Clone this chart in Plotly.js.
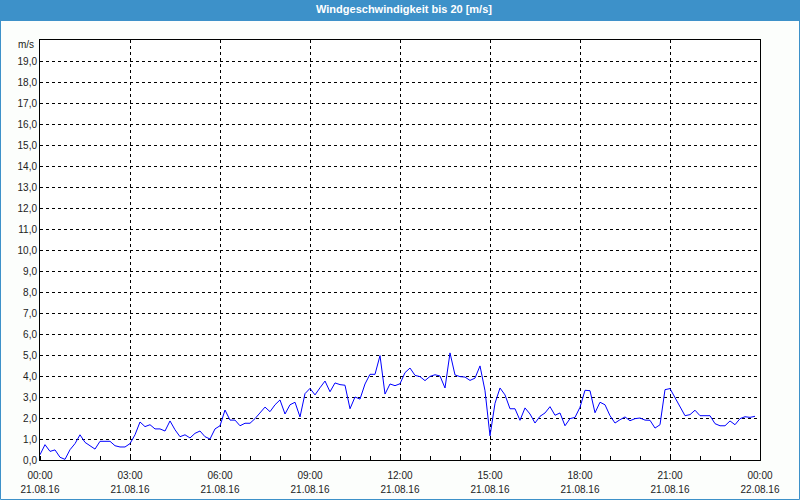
<!DOCTYPE html>
<html>
<head>
<meta charset="utf-8">
<script src="https://cdn.plot.ly/plotly-3.0.1.min.js"></script>
<style>
html,body{margin:0;padding:0;background:#fcfefc;}
#chart{width:800px;height:500px;}
</style>
</head>
<body>
<div id="chart"></div>
<script>
// Wind speed (m/s), 10-minute samples from 21.08.16 00:00 to 23:50
const startTime = "2016-08-21T00:00:00";
const windSpeed = [
  0.25,0.73,0.41,0.48,0.13,0.03,0.49,0.78,1.2,0.84,0.68,0.52,0.89,0.9,0.89,0.68,0.62,0.62,
  0.78,1.2,1.81,1.59,1.68,1.48,1.48,1.38,1.86,1.44,1.11,1.2,1.05,1.27,1.38,1.11,1.0,1.48,
  1.63,2.38,1.9,1.9,1.63,1.75,1.75,1.97,2.24,2.52,2.3,2.63,2.86,2.19,2.63,2.75,2.05,3.16,
  3.41,3.1,3.44,3.76,3.25,3.67,3.59,3.56,2.44,3.0,2.9,3.62,4.08,4.08,4.97,3.14,3.62,3.54,
  3.63,4.16,4.38,4.03,3.97,3.78,3.98,4.06,4.0,3.43,5.1,4.05,3.97,3.95,3.79,3.9,4.48,3.3,
  1.15,2.7,3.43,3.1,2.44,2.44,1.89,2.48,2.19,1.76,2.08,2.24,2.54,2.13,2.24,1.63,1.97,2.03,
  2.51,3.32,3.3,2.25,2.75,2.63,2.11,1.76,1.92,2.05,1.87,1.97,2.0,1.9,1.89,1.52,1.68,3.35,
  3.4,2.98,2.56,2.11,2.16,2.37,2.11,2.11,2.11,1.73,1.63,1.63,1.86,1.68,1.97,2.06,2.03,2.08
];
const xTickVals = ["2016-08-21 00:00","2016-08-21 03:00","2016-08-21 06:00","2016-08-21 09:00",
  "2016-08-21 12:00","2016-08-21 15:00","2016-08-21 18:00","2016-08-21 21:00","2016-08-22 00:00"];
const xTimeLabels = ["00:00","03:00","06:00","09:00","12:00","15:00","18:00","21:00","00:00"];
const xDateLabels = ["21.08.16","21.08.16","21.08.16","21.08.16","21.08.16","21.08.16","21.08.16","21.08.16","22.08.16"];
const yTickVals = [0,1,2,3,4,5,6,7,8,9,10,11,12,13,14,15,16,17,18,19];
const titleText = "Windgeschwindigkeit bis 20 [m/s]";
const unitLabel = "m/s";

// sample timestamps (10-minute spacing)
const t0 = new Date(startTime + "Z").getTime();
const times = windSpeed.map((_, i) => {
  const d = new Date(t0 + i * 600000);
  return d.toISOString().slice(0,19).replace("T"," ");
});

const FONT = "Liberation Sans, Arial, sans-serif";
const W = 800, H = 500, ML = 40, MR = 40, MT = 40, MB = 40;
const PW = W - ML - MR, PH = H - MT - MB;

const trace = {
  x: times, y: windSpeed, type: "scatter", mode: "lines",
  line: {color: "#0000ff", width: 1}, hoverinfo: "skip", xaxis: "x", yaxis: "y"
};
const dateTrace = {
  x: [times[0]], y: [null], type: "scatter", mode: "lines",
  xaxis: "x2", yaxis: "y", hoverinfo: "skip", showlegend: false
};

const xRange = ["2016-08-21 00:00", "2016-08-22 00:00"];

const layout = {
  width: W, height: H,
  margin: {l: ML, r: MR, t: MT, b: MB, pad: 0},
  paper_bgcolor: "#fcfefc",
  plot_bgcolor: "#ffffff",
  showlegend: false,
  separators: ",.",
  font: {family: FONT, size: 10, color: "#222222"},
  title: {
    text: "<b>" + titleText + "</b>",
    font: {family: FONT, size: 11, color: "#ffffff"},
    x: 0.505, xanchor: "center", xref: "container",
    y: 1 - 9.5 / H, yanchor: "middle", yref: "container"
  },
  xaxis: {
    type: "date", range: xRange, fixedrange: true,
    tickmode: "array", tickvals: xTickVals, ticktext: xTimeLabels,
    showgrid: true, gridcolor: "#000000", gridwidth: 1, griddash: "3px,3px",
    showline: true, linecolor: "#000000", linewidth: 1, mirror: true,
    ticks: "", ticklabelstandoff: 6,
    tickfont: {family: FONT, size: 10, color: "#222222"},
    zeroline: false,
    minor: {dtick: 3600000, tick0: "2016-08-21 00:00", ticks: "inside", ticklen: 4,
            tickcolor: "#000000", tickwidth: 1, showgrid: false}
  },
  xaxis2: {
    type: "date", range: xRange, overlaying: "x", side: "bottom", anchor: "y",
    tickmode: "array", tickvals: xTickVals, ticktext: xDateLabels,
    showgrid: false, showline: false, zeroline: false, ticks: "",
    ticklabelstandoff: 22, fixedrange: true,
    tickfont: {family: FONT, size: 10, color: "#222222"}
  },
  yaxis: {
    range: [0, 20], fixedrange: true,
    tickmode: "array", tickvals: yTickVals, tickformat: ".1f",
    showgrid: true, gridcolor: "#000000", gridwidth: 1, griddash: "3px,3px",
    showline: true, linecolor: "#000000", linewidth: 1, mirror: true,
    ticks: "", zeroline: false,
    tickfont: {family: FONT, size: 10, color: "#222222"}
  },
  shapes: [
    {type: "rect", xref: "paper", yref: "paper", layer: "below",
     x0: -ML / PW, x1: 1 + MR / PW, y0: 1 + (MT - 21) / PH, y1: 1 + MT / PH,
     fillcolor: "#3d91c9", line: {width: 0}},
    {type: "rect", xref: "paper", yref: "paper", layer: "above",
     x0: (-ML + 0.5) / PW, x1: 1 + (MR - 0.5) / PW, y0: (-MB + 0.5) / PH, y1: 1 + (MT - 0.5) / PH,
     fillcolor: "rgba(0,0,0,0)", line: {width: 1, color: "#3d91c9"}}
  ],
  annotations: [
    {text: unitLabel, xref: "paper", yref: "paper", x: -4 / PW, y: 1 - 5 / PH,
     xanchor: "right", yanchor: "middle", showarrow: false,
     font: {family: FONT, size: 10, color: "#222222"}}
  ]
};

Plotly.newPlot("chart", [trace, dateTrace], layout, {staticPlot: true, displayModeBar: false});
</script>
</body>
</html>
